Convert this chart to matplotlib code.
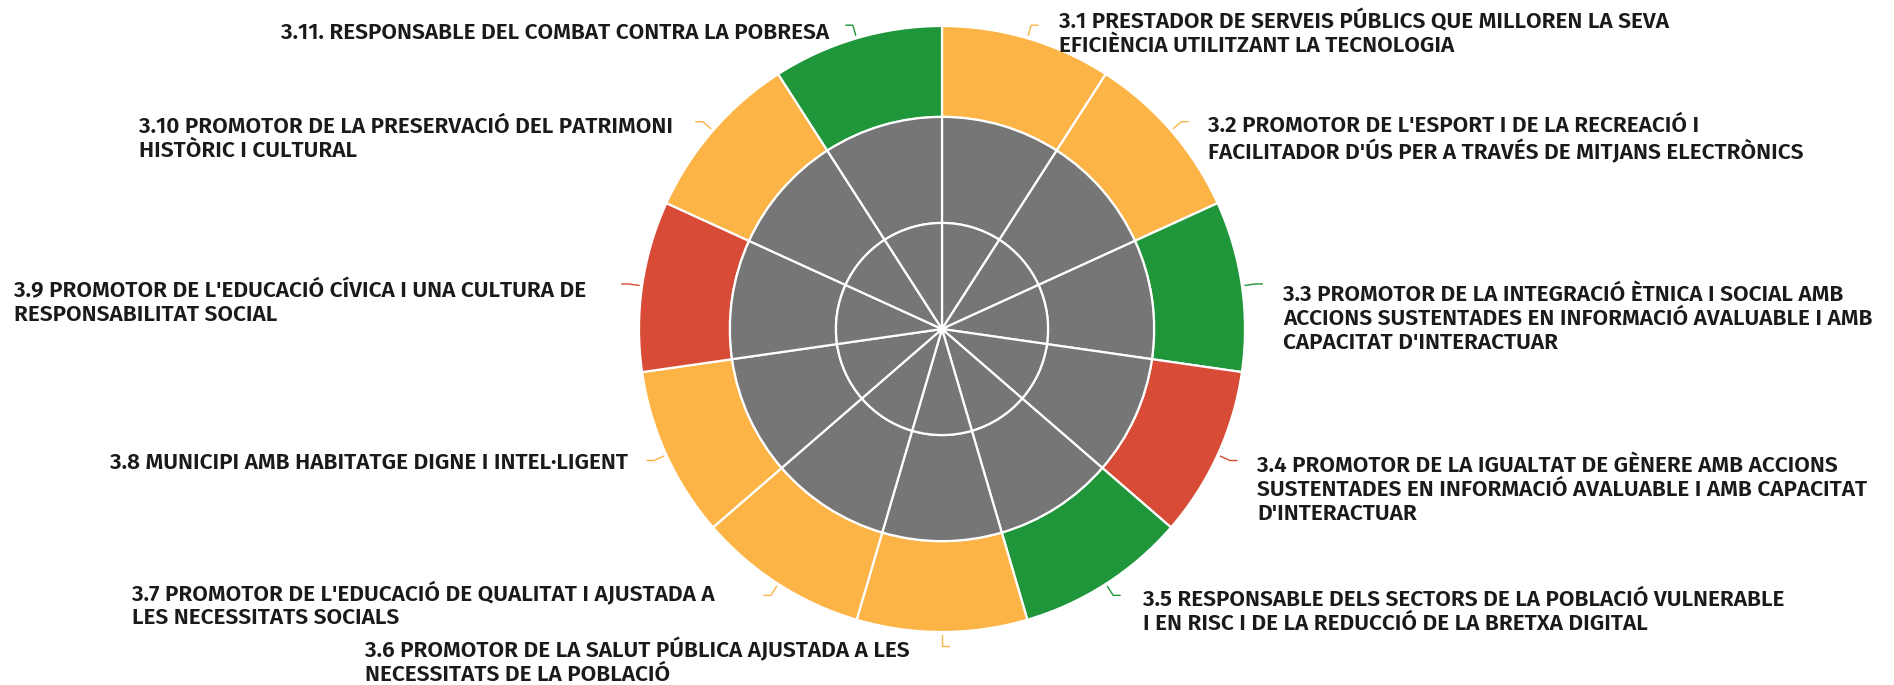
import numpy as np
import matplotlib
matplotlib.use("Agg")
import matplotlib.pyplot as plt

labels = [
    "3.1 PRESTADOR DE SERVEIS PÚBLICS QUE MILLOREN LA SEVA\nEFICIÈNCIA UTILITZANT LA TECNOLOGIA",
    "3.2 PROMOTOR DE L'ESPORT I DE LA RECREACIÓ I\nFACILITADOR D'ÚS PER A TRAVÉS DE MITJANS ELECTRÒNICS",
    "3.3 PROMOTOR DE LA INTEGRACIÓ ÈTNICA I SOCIAL AMB\nACCIONS SUSTENTADES EN INFORMACIÓ AVALUABLE I AMB\nCAPACITAT D'INTERACTUAR",
    "3.4 PROMOTOR DE LA IGUALTAT DE GÈNERE AMB ACCIONS\nSUSTENTADES EN INFORMACIÓ AVALUABLE I AMB CAPACITAT\nD'INTERACTUAR",
    "3.5 RESPONSABLE DELS SECTORS DE LA POBLACIÓ VULNERABLE\nI EN RISC I DE LA REDUCCIÓ DE LA BRETXA DIGITAL",
    "3.6 PROMOTOR DE LA SALUT PÚBLICA AJUSTADA A LES\nNECESSITATS DE LA POBLACIÓ",
    "3.7 PROMOTOR DE L'EDUCACIÓ DE QUALITAT I AJUSTADA A\nLES NECESSITATS SOCIALS",
    "3.8 MUNICIPI AMB HABITATGE DIGNE I INTEL·LIGENT",
    "3.9 PROMOTOR DE L'EDUCACIÓ CÍVICA I UNA CULTURA DE\nRESPONSABILITAT SOCIAL",
    "3.10 PROMOTOR DE LA PRESERVACIÓ DEL PATRIMONI\nHISTÒRIC I CULTURAL",
    "3.11. RESPONSABLE DEL COMBAT CONTRA LA POBRESA",
]
status = ["mid", "mid", "good", "bad", "good", "mid", "mid", "mid", "bad", "mid", "good"]
segment_weights = [1] * 11

status_colors = {"good": "#1F963A", "mid": "#FDB447", "bad": "#D74B37"}
gray = "#767676"

# label layout (pixel coords, y from top)
label_x = [1059, 1208, 1283, 1257, 1143, 365, 132, 628, 14, 139, 829]
label_y = [33, 139, 319, 490, 612, 661, 605, 463, 303, 139, 33]
label_ha = ["left"] * 7 + ["right"] + ["left"] * 2 + ["right"]

W, H = 1894, 685
fig = plt.figure(figsize=(W / 100, H / 100), dpi=100)
ax = fig.add_axes([0, 0, 1, 1])

cx, cy, R = 942, H - 329, 303
colors = [status_colors[s] for s in status]
wp = dict(edgecolor="white", linewidth=1.6)

ax.pie(segment_weights, colors=colors, radius=R, center=(cx, cy), startangle=90,
       counterclock=False, wedgeprops=dict(width=0.30 * R, **wp), frame=True)
ax.pie(segment_weights, colors=[gray] * 11, radius=0.70 * R, center=(cx, cy), startangle=90,
       counterclock=False, wedgeprops=dict(width=0.35 * R, **wp), frame=True)
ax.pie(segment_weights, colors=[gray] * 11, radius=0.35 * R, center=(cx, cy), startangle=90,
       counterclock=False, wedgeprops=dict(**wp), frame=True)
ax.set_xlim(0, W)
ax.set_ylim(0, H)
ax.set_aspect("equal")
ax.axis("off")

font = ["Fira Sans", "DejaVu Sans"]
n = len(segment_weights)
for i in range(n):
    mid = np.deg2rad(90 - (i + 0.5) * 360 / n)
    x0 = cx + R * 1.01 * np.cos(mid)
    y0 = cy + R * 1.01 * np.sin(mid)
    x1 = cx + R * 1.045 * np.cos(mid)
    y1 = cy + R * 1.045 * np.sin(mid)
    dx = 7 if np.cos(mid) >= 0 else -7
    ax.plot([x0, x1, x1 + dx], [y0, y1, y1], color=colors[i], lw=1.0,
            solid_capstyle="round")
    ax.text(label_x[i], H - label_y[i], labels[i], ha=label_ha[i], va="center",
            multialignment="left", fontsize=16.3, fontweight=600, family=font,
            color="#1a1a1a", linespacing=1.15)

fig.savefig("out.png", dpi=100, facecolor="white")
